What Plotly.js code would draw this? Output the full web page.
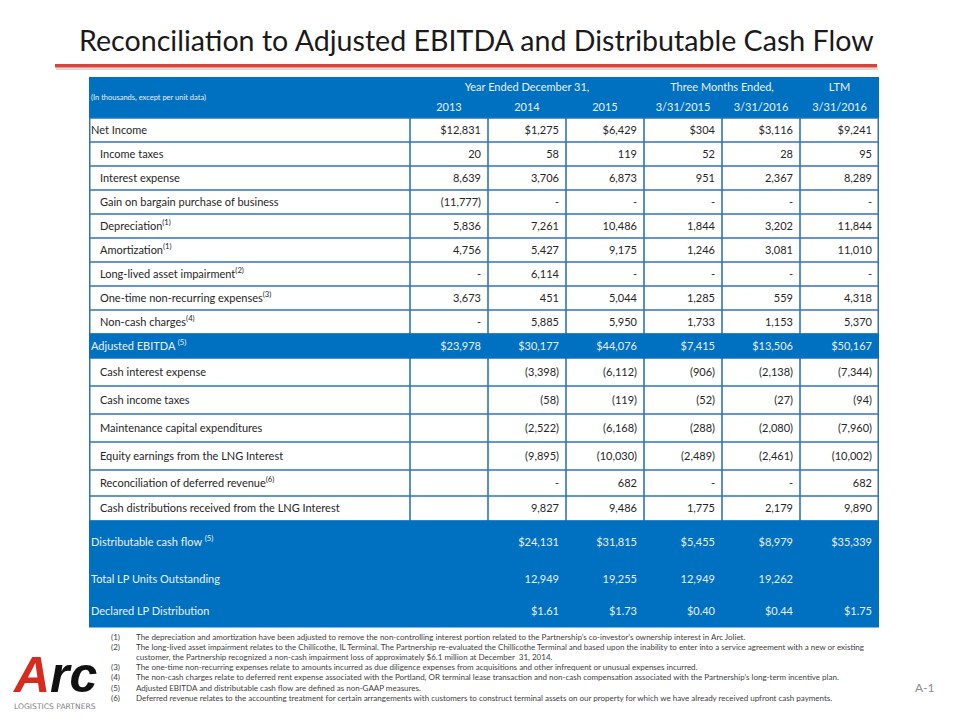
<!DOCTYPE html>
<html>
<head>
<meta charset="utf-8">
<script src="https://cdn.plot.ly/plotly-3.0.1.min.js"></script>
<style>html,body{margin:0;padding:0;background:#fff;}#chart{width:960px;height:720px;}</style>
</head>
<body>
<div id="chart"></div>
<script>
// ---------------- DATA ----------------
const titleText = "Reconciliation to Adjusted EBITDA and Distributable Cash Flow";
const unitNote = "(In thousands, except per unit data)";
const groupLabels = ["Year Ended December 31,", "Three Months Ended,", "LTM"];
const periodLabels = ["2013", "2014", "2015", "3/31/2015", "3/31/2016", "3/31/2016"];

const rowLabels = [
  "Net Income",
  "Income taxes",
  "Interest expense",
  "Gain on bargain purchase of business",
  "Depreciation<sup>(1)</sup>",
  "Amortization<sup>(1)</sup>",
  "Long-lived asset impairment<sup>(2)</sup>",
  "One-time non-recurring expenses<sup>(3)</sup>",
  "Non-cash charges<sup>(4)</sup>",
  "Adjusted EBITDA <sup>(5)</sup>",
  "Cash interest expense",
  "Cash income taxes",
  "Maintenance capital expenditures",
  "Equity earnings from the LNG Interest",
  "Reconciliation of deferred revenue<sup>(6)</sup>",
  "Cash distributions received from the LNG Interest",
  "Distributable cash flow <sup>(5)</sup>",
  "Total LP Units Outstanding",
  "Declared LP Distribution"
];

// null = blank cell, 0 = shown as "-"
const fy2013 = [12831, 20, 8639, -11777, 5836, 4756, 0, 3673, 0, 23978, null, null, null, null, null, null, null, null, null];
const fy2014 = [1275, 58, 3706, 0, 7261, 5427, 6114, 451, 5885, 30177, -3398, -58, -2522, -9895, 0, 9827, 24131, 12949, 1.61];
const fy2015 = [6429, 119, 6873, 0, 10486, 9175, 0, 5044, 5950, 44076, -6112, -119, -6168, -10030, 682, 9486, 31815, 19255, 1.73];
const q2015  = [304, 52, 951, 0, 1844, 1246, 0, 1285, 1733, 7415, -906, -52, -288, -2489, 0, 1775, 5455, 12949, 0.40];
const q2016  = [3116, 28, 2367, 0, 3202, 3081, 0, 559, 1153, 13506, -2138, -27, -2080, -2461, 0, 2179, 8979, 19262, 0.44];
const ltm2016 = [9241, 95, 8289, 0, 11844, 11010, 0, 4318, 5370, 50167, -7344, -94, -7960, -10002, 682, 9890, 35339, null, 1.75];
const columns = [fy2013, fy2014, fy2015, q2015, q2016, ltm2016];

// row number formats
const currencyRows = [0, 9, 16, 18];
const decimalRows = [18];
const totalRows = [9, 16, 17, 18];      // highlighted (blue) rows
const indentedRows = [1,2,3,4,5,6,7,8,10,11,12,13,14,15];

const footNums = ["(1)", "(2)", "(3)", "(4)", "(5)", "(6)"];
const footTexts = [
  "The depreciation and amortization have been adjusted to remove the non-controlling interest portion related to the Partnership’s co-investor’s ownership interest in Arc Joliet.",
  "The long-lived asset impairment relates to the Chillicothe, IL Terminal. The Partnership re-evaluated the Chillicothe Terminal and based upon the inability to enter into a service agreement with a new or existing<br>customer, the Partnership recognized a non-cash impairment loss of approximately $6.1 million at December  31, 2014.",
  "The one-time non-recurring expenses relate to amounts incurred as due diligence expenses from acquisitions and other infrequent or unusual expenses incurred.",
  "The non-cash charges relate to deferred rent expense associated with the Portland, OR terminal lease transaction and non-cash compensation associated with the Partnership’s long-term incentive plan.",
  "Adjusted EBITDA and distributable cash flow are defined as non-GAAP measures.",
  "Deferred revenue relates to the accounting treatment for certain arrangements with customers to construct terminal assets on our property for which we have already received upfront cash payments."
];
const pageLabel = "A-1";

// ---------------- LAYOUT GEOMETRY ----------------
const colEdges = [89, 410, 488, 566, 644, 722, 800, 879];
const headTop = 77, headBottom = 117;
const rowEdges = [118,142,166,190,214,238,262,286,310,334,358,386,414,442,470,496,521,563,595,627];
const footLineY = [637.5, 647.7, 657.9, 668.1, 678.3, 688.5, 698.7];
const footNoteLine = [0, 1, 3, 4, 5, 6];   // line index where each footnote starts
const BLUE = "#0070C0";
const BORDER = "#2E75B6";
const DARK = "#262626";
const LIGHT = "#EAF1F9";
const FONT = "Lato, 'Open Sans', sans-serif";
const FS = 11;

function fmt(v, r) {
  if (v === 0) return "-";
  const d = decimalRows.includes(r) ? 2 : 0;
  let s = Math.abs(v).toLocaleString("en-US", {minimumFractionDigits: d, maximumFractionDigits: d});
  if (currencyRows.includes(r)) s = "$" + s;
  return v < 0 ? "(" + s + ")" : s;
}

const shapes = [];
function rect(x0, x1, y0, y1, color) {
  shapes.push({type:"rect", xref:"x", yref:"y", layer:"below", x0:x0, x1:x1, y0:y0, y1:y1, fillcolor:color, line:{width:0}});
}
// red title rule + soft shadow
rect(56, 878, 67.5, 70, "#d9d9d9");
rect(55, 877, 64, 67.5, "#D8443A");
// table blue base
const L = colEdges[0], R = colEdges[colEdges.length-1];
rect(L, R, headTop, rowEdges[rowEdges.length-1], BORDER);
rect(L, R, headTop, headBottom + 0.5, BLUE);
for (let r = 0; r < rowLabels.length; r++) {
  const y0 = rowEdges[r], y1 = rowEdges[r+1];
  if (totalRows.includes(r)) {
    rect(L, R, y0 - 0.5, y1 + 0.5, BLUE);
  } else {
    for (let c = 0; c < colEdges.length-1; c++) {
      rect(colEdges[c] + (c === 0 ? 1.5 : 0.8), colEdges[c+1] - 0.8 - (c === colEdges.length-2 ? 0.7 : 0), y0 + 0.8, y1 - 0.8, "#ffffff");
    }
  }
}

const traces = [];
const centers = rowLabels.map((_, r) => (rowEdges[r] + rowEdges[r+1]) / 2 + 1);
const rowColor = rowLabels.map((_, r) => totalRows.includes(r) ? LIGHT : DARK);
function textTrace(x, y, text, pos, size, color, family) {
  traces.push({type:"scatter", mode:"text", hoverinfo:"skip", cliponaxis:false,
    x:x, y:y, text:text, textposition:pos,
    textfont:{family:family || FONT, size:size, color:color}});
}

// row labels
textTrace(rowLabels.map((_, r) => L + 2 + (indentedRows.includes(r) ? 9 : 0)), centers, rowLabels, "middle right", FS, rowColor);
// values (blank cells skipped)
columns.forEach((col, c) => {
  const idx = col.map((v, r) => r).filter(r => col[r] !== null);
  textTrace(idx.map(() => colEdges[c+2] - 7), idx.map(r => centers[r]), idx.map(r => fmt(col[r], r)), "middle left", FS, idx.map(r => rowColor[r]));
});
// header: group labels
const groupSpans = [[1,4],[4,6],[6,7]];
textTrace(groupSpans.map(s => (colEdges[s[0]] + colEdges[s[1]]) / 2), groupLabels.map(() => 88), groupLabels, "middle center", FS, LIGHT);
// header: period labels
textTrace(periodLabels.map((_, c) => (colEdges[c+1] + colEdges[c+2]) / 2), periodLabels.map(() => 108.5), periodLabels, "middle center", FS, LIGHT);
textTrace([L + 2], [98], [unitNote], "middle right", 7.5, LIGHT);
// footnotes
textTrace(footNums.map(() => 111), footNoteLine.map(i => footLineY[i]), footNums, "middle right", 8, "#404040");
footTexts.forEach((t, i) => {
  const lines = t.split("<br>");
  textTrace(lines.map(() => 136), lines.map((_, k) => footLineY[footNoteLine[i] + k]), lines, "middle right", 8, "#404040");
});

const annotations = [
  {xref:"x", yref:"y", x:77, y:40, xanchor:"left", yanchor:"middle", showarrow:false,
   text:titleText, font:{family:FONT, size:28.6, color:"#1a1a1a"}},
  {xref:"x", yref:"y", x:925, y:687, xanchor:"center", yanchor:"middle", showarrow:false,
   text:pageLabel, font:{family:FONT, size:12, color:"#8c8c8c"}},
  {xref:"x", yref:"y", x:55, y:675, xanchor:"center", yanchor:"middle", showarrow:false,
   text:"<span style='color:#D62B1F'>A</span>rc", font:{family:"'Liberation Sans', Arial, sans-serif", size:50, color:"#111111", weight:900, style:"italic"}},
  {xref:"x", yref:"y", x:55, y:706, xanchor:"center", yanchor:"middle", showarrow:false,
   text:"LOGISTICS PARTNERS", font:{family:"'DejaVu Sans', sans-serif", size:7.6, color:"#7f7f7f"}}
];

const layout = {
  width:960, height:720, margin:{l:0, r:0, t:0, b:0},
  paper_bgcolor:"#ffffff", plot_bgcolor:"#ffffff", showlegend:false,
  xaxis:{range:[0,960], visible:false, fixedrange:true},
  yaxis:{range:[720,0], visible:false, fixedrange:true},
  shapes:shapes, annotations:annotations
};
Plotly.newPlot("chart", traces, layout, {displayModeBar:false, staticPlot:true});
</script>
</body>
</html>
